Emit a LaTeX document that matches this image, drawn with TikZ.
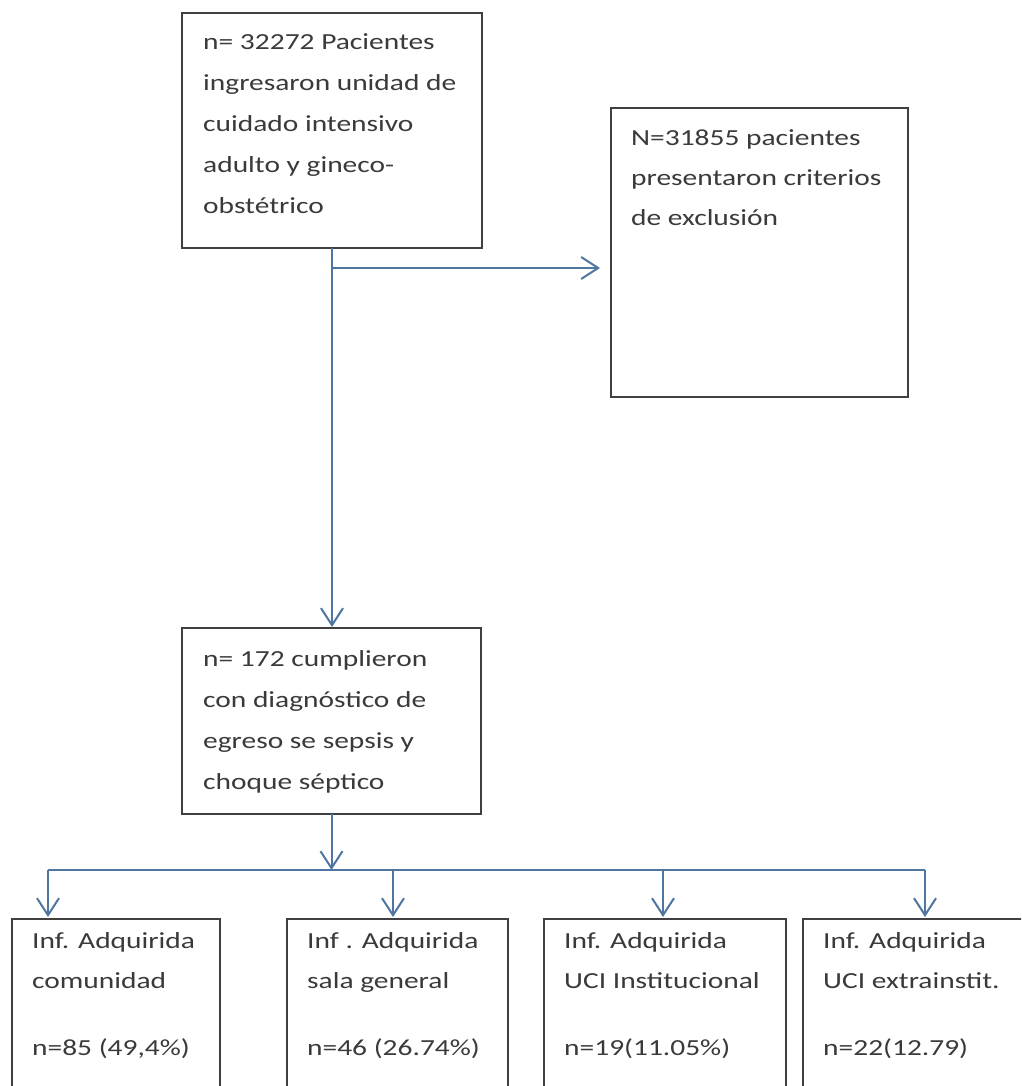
\documentclass[tikz,border=0pt]{standalone}
\usepackage{fontspec}
\setmainfont{Carlito}[FakeStretch=1.28]
\usetikzlibrary{arrows.meta}
\definecolor{conncol}{HTML}{4F76A0}
\definecolor{boxcol}{HTML}{404040}
\definecolor{txtcol}{HTML}{3A3A3A}
\begin{document}
\begin{tikzpicture}[x=1pt,y=-1pt,
  box/.style={draw=boxcol, line width=2pt, rectangle, inner sep=0pt, outer sep=0pt, anchor=north west},
  txt/.style={anchor=north west, inner sep=0pt, align=left, text=txtcol, font=\fontsize{23pt}{41pt}\selectfont},
  txtb/.style={txt, font=\fontsize{23pt}{40pt}\selectfont},
  conn/.style={draw=conncol, line width=2pt},
  arr/.style={conn, -{Straight Barb[length=17pt,width=22pt,line width=2pt]}}]
\clip (0,0) rectangle (1021,1086);
\fill[white] (0,0) rectangle (1021,1086);
% boxes
\node[box, minimum width=300pt, minimum height=235pt] (b1) at (182,13) {};
\node[box, minimum width=297pt, minimum height=289pt] (b2) at (611,108) {};
\node[box, minimum width=299pt, minimum height=186pt] (b3) at (182,628) {};
\node[box, minimum width=208pt, minimum height=200pt] (bA) at (12,919) {};
\node[box, minimum width=221pt, minimum height=200pt] (bB) at (287,919) {};
\node[box, minimum width=242pt, minimum height=200pt] (bC) at (544,919) {};
\node[box, minimum width=240pt, minimum height=200pt] (bD) at (803,919) {};
% texts
\node[txt] (t1) at ([xshift=21pt,yshift=-16pt]b1.north west) {\rule{0pt}{20pt}n= 32272 Pacientes\\ingresaron unidad de\\cuidado intensivo\\adulto y gineco-\\obstétrico};
\node[txtb] (t2) at ([xshift=20pt,yshift=-17pt]b2.north west) {\rule{0pt}{20pt}N=31855 pacientes\\presentaron criterios\\de exclusión};
\node[txt] (t3) at ([xshift=21pt,yshift=-18pt]b3.north west) {\rule{0pt}{20pt}n= 172 cumplieron\\con diagnóstico de\\egreso se sepsis y\\choque séptico};
\node[txtb] (tA) at ([xshift=20pt,yshift=-9pt]bA.north west) {\rule{0pt}{20pt}Inf. Adquirida\\comunidad\\[27pt]n=85 (49,4\%)};
\node[txtb] (tB) at ([xshift=20pt,yshift=-9pt]bB.north west) {\rule{0pt}{20pt}Inf . Adquirida\\sala general\\[27pt]n=46 (26.74\%)};
\node[txtb] (tC) at ([xshift=20pt,yshift=-9pt]bC.north west) {\rule{0pt}{20pt}Inf. Adquirida\\UCI Institucional\\[27pt]n=19(11.05\%)};
\node[txtb] (tD) at ([xshift=20pt,yshift=-9pt]bD.north west) {\rule{0pt}{20pt}Inf. Adquirida\\UCI extrainstit.\\[27pt]n=22(12.79)};
% connectors
\coordinate (j1) at (b1.south |- 0,268);
\draw[arr, shorten >=1pt] (b1.south) -- (b1.south |- b3.north);
\draw[arr, shorten >=11pt] (j1) -- (j1 -| b2.west);
\coordinate (j2) at (b3.south |- 0,870);
\draw[arr] (b3.south) -- (j2);
\coordinate (jA) at (48,870);
\coordinate (jB) at (393,870);
\coordinate (jC) at (663,870);
\coordinate (jD) at (925,870);
\draw[conn] (jA) -- (jD);
\draw[arr, shorten >=2pt] (jA) -- (jA |- bA.north);
\draw[arr, shorten >=2pt] (jB) -- (jB |- bB.north);
\draw[arr, shorten >=2pt] (jC) -- (jC |- bC.north);
\draw[arr, shorten >=2pt] (jD) -- (jD |- bD.north);
\end{tikzpicture}
\end{document}
